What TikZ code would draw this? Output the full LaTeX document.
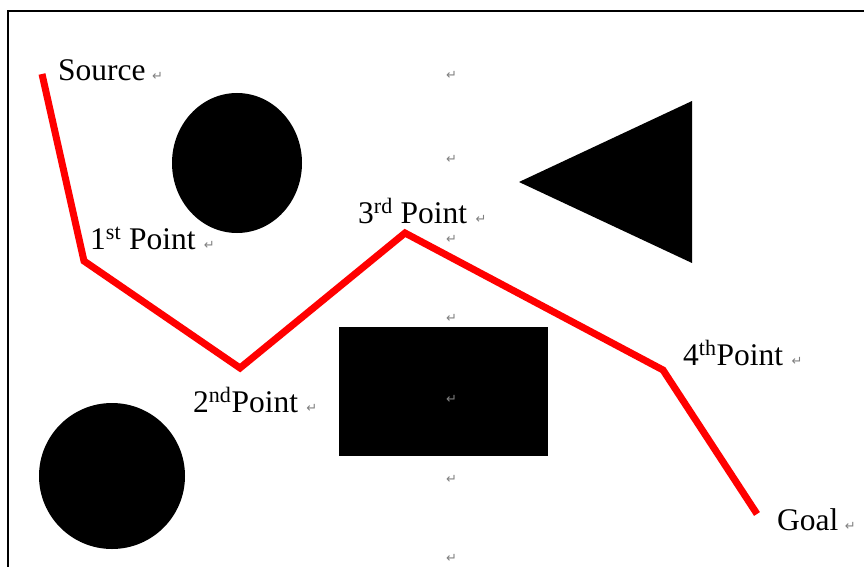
\documentclass[tikz,border=0pt]{standalone}
\usepackage{fontspec}
\setmainfont{Liberation Serif}
\newfontfamily\markfont{DejaVu Sans}
\usepackage{tikz}
\usetikzlibrary{positioning,calc}
\usepackage{xcolor}

\begin{document}
\begin{tikzpicture}[
    x=1pt, y=-1pt,
    obstacle/.style={fill=black, draw=none},
    route/.style={draw=red, line width=7pt, line join=miter},
    lbl/.style={inner sep=0pt, anchor=base west, font=\fontsize{31.5}{36}\selectfont},
    retmark/.style={inner sep=0pt, anchor=base west, text=gray, font=\markfont\fontsize{13}{14}\selectfont}
  ]
    \useasboundingbox (0,0) rectangle (864,567);

    % Frame
    \draw[line width=2pt] (8,600) -- (8,11) -- (900,11);

    % Obstacles
    \fill[obstacle] (237,163) ellipse [x radius=65, y radius=70];
    \fill[obstacle] (112,476) circle [radius=73];
    \fill[obstacle] (519,182) -- (692,101) -- (692,263) -- cycle;
    \fill[obstacle] (339,327) rectangle (548,456);

    % Way points
    \coordinate (src) at (42,74);
    \coordinate (p1) at (84,261);
    \coordinate (p2) at (240,368);
    \coordinate (p3) at (405,233);
    \coordinate (p4) at (663,370);
    \coordinate (goal) at (757,514);

    % Route
    \draw[route] (src) -- (p1) -- (p2) -- (p3) -- (p4) -- (goal);

    % Labels
    \node[lbl] (srclbl) at (58,81) {Source};
    \node[lbl] (p1lbl) at (90,249) {1\textsuperscript{st} Point};
    \node[lbl] (p2lbl) at (193,412) {2\textsuperscript{nd}Point};
    \node[lbl] (p3lbl) at (358,223) {3\textsuperscript{rd} Point};
    \node[lbl] (p4lbl) at (683,365) {4\textsuperscript{th}Point};
    \node[lbl] (goallbl) at (777,530) {Goal};

    % Paragraph marks
    \node[retmark, right=6pt of srclbl.base east, anchor=base west] {↵};
    \node[retmark, right=8pt of p1lbl.base east, anchor=base west] {↵};
    \node[retmark, right=8pt of p2lbl.base east, anchor=base west] {↵};
    \node[retmark, right=8pt of p3lbl.base east, anchor=base west] {↵};
    \node[retmark, right=8pt of p4lbl.base east, anchor=base west] {↵};
    \node[retmark, right=6pt of goallbl.base east, anchor=base west] {↵};
    \foreach \y in {80,163,243,322,403,483,562}
      \node[retmark] at (446,\y) {↵};
  \end{tikzpicture}
\end{document}
